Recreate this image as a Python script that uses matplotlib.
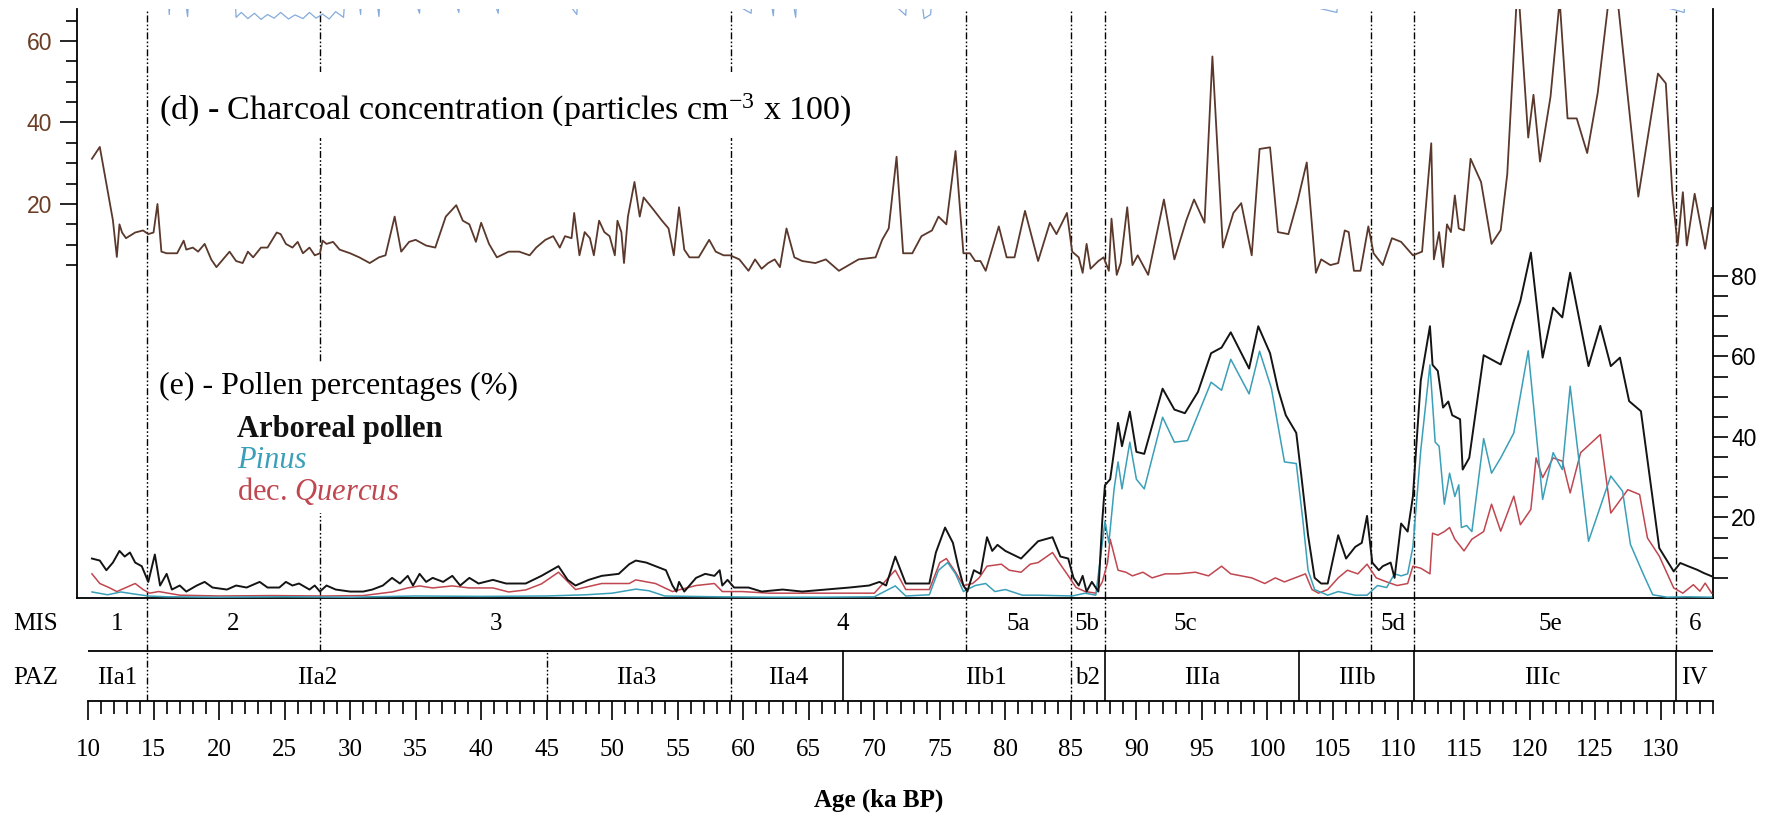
import numpy as np
import matplotlib.pyplot as plt
from matplotlib.patches import Rectangle
from matplotlib.ticker import FixedLocator, MultipleLocator

plt.rcParams['font.family'] = 'Liberation Serif'
plt.rcParams['mathtext.fontset'] = 'custom'
plt.rcParams['mathtext.rm'] = 'Liberation Serif'
plt.rcParams['mathtext.it'] = 'Liberation Serif:italic'

# ---- data (age in ka BP) ----
charcoal_age = [10.3, 10.9, 11.9, 12.2, 12.4, 12.6, 12.9, 13.6, 14.2, 14.6, 15.0, 15.3, 15.6, 16.0, 16.8,
                17.3, 17.5, 18.0, 18.4, 18.9, 19.4, 19.8, 20.3, 20.8, 21.3, 21.8, 22.2, 22.6, 23.2, 23.7,
                24.4, 24.7, 25.1, 25.6, 26.0, 26.4, 26.9, 27.3, 27.7, 27.9, 28.2, 28.7, 29.2, 30.0, 30.7,
                31.5, 32.2, 32.7, 33.4, 33.9, 34.5, 35.0, 35.8, 36.5, 37.3, 38.1, 38.6, 39.1, 39.6, 40.0,
                40.6, 41.2, 42.1, 42.9, 43.7, 44.2, 44.9, 45.5, 46.0, 46.4, 46.9, 47.1, 47.5, 47.9, 48.3,
                48.6, 49.0, 49.4, 49.8, 50.2, 50.4, 50.7, 50.9, 51.2, 51.7, 52.1, 52.4, 53.1, 53.8, 54.3,
                54.7, 55.1, 55.5, 55.9, 56.6, 57.4, 57.9, 58.5, 59.0, 59.7, 60.4, 60.9, 61.4, 61.9, 62.4,
                62.8, 63.3, 63.9, 64.5, 65.5, 66.3, 67.3, 68.8, 70.1, 70.6, 71.1, 71.7, 72.2, 72.9, 73.6,
                74.4, 74.9, 75.5, 76.2, 76.8, 77.3, 77.7, 78.1, 78.5, 79.5, 80.1, 80.7, 81.5, 82.5, 83.4,
                83.9, 84.7, 85.1, 85.6, 85.9, 86.2, 86.5, 87.1, 87.5, 87.9, 88.1, 88.5, 88.8, 89.3, 89.7,
                90.1, 90.9, 92.1, 92.9, 93.8, 94.4, 95.2, 95.8, 96.6, 97.4, 98.0, 98.8, 99.4, 100.2, 100.8,
                101.6, 102.3, 103.0, 103.7, 104.1, 104.8, 105.4, 105.9, 106.2, 106.6, 107.1, 107.7, 108.1,
                108.8, 109.5, 110.2, 111.1, 111.8, 112.5, 112.7, 113.1, 113.4, 113.7, 114.0, 114.3, 114.6,
                115.0, 115.5, 116.3, 117.1, 117.8, 118.3, 119.1, 119.9, 120.3, 120.8, 121.6, 122.3, 122.9,
                123.6, 124.4, 125.2, 126.4, 128.3, 129.8, 130.4, 130.9, 131.3, 131.7, 132.0, 132.6, 133.4,
                133.9]
charcoal = [31.1, 34.0, 16.0, 7.0, 15.0, 13.0, 11.6, 13.0, 13.5, 12.6, 13.0, 20.0, 8.3, 7.9, 7.9,
            11.0, 8.8, 9.3, 8.3, 10.2, 6.4, 4.5, 6.4, 8.3, 6.0, 5.5, 8.3, 6.9, 9.3, 9.3,
            13.0, 12.6, 10.2, 9.3, 10.7, 7.9, 9.3, 7.4, 7.9, 11.0, 10.2, 10.7, 8.8, 7.9, 6.9,
            5.5, 6.9, 7.4, 16.9, 8.3, 10.7, 11.2, 9.8, 9.3, 16.9, 19.7, 15.9, 15.0, 10.7, 15.4,
            10.2, 6.9, 8.3, 8.3, 7.4, 9.3, 11.2, 12.1, 9.3, 12.1, 11.6, 17.8, 7.4, 13.1, 11.6,
            7.4, 15.9, 13.1, 12.1, 7.4, 15.9, 13.1, 5.5, 16.9, 25.4, 16.9, 21.6, 18.8, 15.9, 14.0,
            7.4, 19.2, 8.8, 6.9, 6.9, 11.2, 8.3, 7.4, 7.4, 6.4, 3.6, 6.4, 4.1, 5.5, 6.4,
            4.5, 14.0, 6.9, 6.0, 5.5, 6.4, 3.6, 6.4, 6.9, 11.2, 14.0, 31.6, 7.9, 7.9, 12.1,
            13.5, 16.9, 15.0, 33.0, 7.9, 7.9, 6.0, 6.0, 3.6, 14.5, 6.9, 6.9, 18.3, 6.0, 15.4,
            12.6, 17.8, 8.3, 6.9, 3.1, 10.2, 4.1, 6.0, 6.9, 3.6, 16.4, 2.6, 5.5, 19.2, 5.0,
            7.4, 2.6, 21.1, 6.4, 15.9, 21.1, 15.4, 56.2, 9.3, 17.8, 20.2, 7.4, 33.5, 33.9, 13.1,
            12.6, 20.7, 30.2, 3.1, 6.4, 5.0, 5.5, 13.5, 13.1, 3.6, 3.6, 14.5, 7.9,
            5.0, 11.6, 10.7, 7.4, 8.3, 34.9, 6.4, 13.1, 4.5, 15.0, 13.1, 22.1, 14.0,
            13.5, 31.1, 25.4, 10.2, 13.6, 27.3, 75.0, 36.3, 46.8, 30.4, 46.3, 70.0, 41.0,
            41.0, 32.5, 47.2, 80.0, 21.8, 52.0, 49.6, 22.6, 9.8, 22.9, 9.8, 22.5, 9.0,
            19.0]

ap_age = [10.3, 10.9, 11.4, 11.9, 12.4, 12.8, 13.2, 13.6, 14.1, 14.6, 15.1, 15.5, 16.0, 16.4, 17.0,
          17.5, 18.3, 18.9, 19.5, 20.6, 21.3, 22.1, 23.1, 23.7, 24.6, 25.1, 25.6, 26.1, 26.9, 27.3,
          27.7, 28.2, 28.9, 30.0, 31.0, 31.7, 32.5, 33.2, 33.8, 34.4, 34.8, 35.3, 35.8, 36.3, 37.1,
          37.8, 38.4, 39.1, 39.8, 40.9, 41.9, 43.4, 44.6, 45.9, 46.6, 47.2, 48.2, 49.2, 50.5, 51.3,
          51.8, 52.6, 53.3, 54.1, 54.6, 54.9, 55.1, 55.5, 56.4, 57.1, 57.8, 58.2, 58.4, 58.8, 59.3,
          60.4, 61.4, 63.0, 64.5, 66.3, 68.1, 69.6, 70.4, 70.9, 71.6, 72.4, 74.2, 74.7, 75.4, 76.0,
          76.4, 76.8, 77.1, 77.6, 78.1, 78.6, 79.0, 79.4, 80.0, 81.2, 82.5, 83.6, 84.2, 84.8, 85.2,
          85.6, 85.9, 86.2, 86.6, 87.1, 87.4, 87.6, 88.0, 88.6, 88.9, 89.5, 90.0, 90.6, 92.0, 92.9,
          93.7, 94.7, 95.7, 96.5, 97.2, 98.6, 99.3, 100.2, 100.8, 101.4, 102.2, 102.6, 103.1, 103.6,
          104.1, 104.6, 105.4, 106.0, 106.7, 107.2, 107.6, 108.0, 108.5, 108.8, 109.4, 109.7, 110.2,
          110.7, 111.1, 111.7, 112.4, 112.6, 113.0, 113.4, 113.8, 114.1, 114.7, 114.9, 115.4, 116.5,
          117.8, 118.8, 119.3, 120.1, 121.0, 121.8, 122.5, 123.1, 124.5, 125.4, 126.2, 126.9, 127.6,
          128.5, 129.9, 131.0, 131.5, 132.1, 132.8, 133.3, 133.9]
ap = [9.8, 9.3, 6.9, 8.8, 11.7, 10.3, 11.3, 8.8, 7.9, 4.0, 10.8, 3.1, 6.0, 2.1, 3.1,
      1.6, 3.1, 4.0, 2.6, 2.1, 3.1, 2.6, 4.0, 2.6, 2.6, 4.0, 3.1, 3.6, 2.1, 3.1,
      1.6, 3.1, 2.1, 1.6, 1.6, 2.1, 3.1, 5.0, 3.6, 5.5, 3.1, 6.0, 4.0, 5.0, 4.0,
      5.5, 3.1, 5.0, 3.6, 4.5, 3.6, 3.6, 5.5, 7.9, 4.5, 3.1, 4.5, 5.5, 6.0, 8.4,
      9.3, 8.8, 7.9, 6.9, 3.1, 1.6, 4.0, 1.6, 5.0, 6.0, 5.5, 6.9, 3.1, 4.5, 2.6,
      2.6, 1.6, 2.1, 1.6, 2.1, 2.6, 3.1, 4.0, 3.1, 10.3, 3.6, 3.6, 11.3, 17.5, 13.7,
      7.9, 3.1, 1.6, 6.9, 6.0, 15.1, 11.7, 13.2, 11.7, 9.8, 14.1, 15.1, 10.3, 9.8, 5.0,
      3.1, 5.5, 1.6, 4.0, 1.6, 19.4, 28.0, 29.5, 43.5, 37.7, 46.3, 36.3, 35.8, 52.0, 46.8,
      45.9, 51.2, 60.8, 62.2, 66.0, 57.0, 67.5, 60.8, 52.0, 45.4, 41.0, 30.0, 15.6, 5.0,
      3.6, 3.6, 15.6, 9.8, 12.7, 13.7, 20.4, 8.8, 6.9, 7.9, 8.8, 5.0, 18.5,
      16.5, 25.2, 54.0, 67.5, 57.9, 56.4, 47.3, 48.8, 45.4, 44.4, 31.9, 34.8, 60.3,
      58.0, 68.8, 73.8, 85.8, 59.7, 72.1, 69.7, 80.8, 57.6, 67.6, 57.6, 59.7, 48.9,
      46.4, 12.4, 6.6, 8.7, 7.9, 7.0, 6.2, 5.4]

pinus_age = [10.3, 11.5, 12.5, 13.5, 14.6, 16.0, 20.0, 25.0, 30.0, 35.0, 40.0, 45.0, 48.0, 50.0, 51.8,
             52.8, 54.0, 58.0, 62.0, 66.0, 70.0, 71.6, 72.4, 74.2, 74.9, 75.6, 76.2, 76.8, 77.7, 78.5,
             79.2, 80.0, 81.3, 82.5, 85.1, 86.1, 86.9, 87.4, 87.6, 87.9, 88.3, 88.6, 88.9, 89.5, 90.0,
             90.6, 92.0, 92.9, 93.9, 95.7, 96.5, 97.2, 98.6, 99.4, 100.3, 101.3, 102.2, 102.7, 103.1,
             103.6, 104.6, 105.4, 106.7, 107.6, 108.4, 109.1, 109.7, 110.2, 110.7, 111.1, 111.7, 112.4,
             112.8, 113.1, 113.5, 113.9, 114.3, 114.6, 114.8, 115.2, 115.6, 116.5, 117.1, 117.8, 118.8,
             119.9, 121.0, 121.8, 122.5, 123.1, 124.5, 126.2, 127.1, 127.7, 128.7, 129.4, 130.5, 132.0,
             133.9]
pinus = [1.5, 0.8, 1.5, 1.0, 0.5, 0.3, 0.2, 0.3, 0.2, 0.5, 0.4, 0.5, 0.8, 1.2, 2.2,
         1.8, 0.5, 0.3, 0.2, 0.2, 0.3, 3.0, 0.5, 0.8, 6.9, 8.8, 6.0, 1.6, 3.1, 3.6,
         1.6, 2.1, 0.7, 0.7, 0.5, 1.2, 0.7, 13.7, 19.0, 13.7, 27.1, 33.8, 27.1, 38.7, 29.5,
         27.1, 44.9, 38.7, 39.1, 53.6, 51.6, 59.3, 50.7, 61.3, 52.1, 33.8, 33.4, 19.4, 6.9,
         2.1, 0.7, 1.6, 0.7, 0.7, 3.1, 2.6, 6.0, 5.5, 6.0, 12.7, 36.7, 57.9,
         38.7, 37.7, 23.3, 31.0, 25.2, 28.1, 17.5, 18.0, 16.5, 39.6, 31.0, 34.8, 41.0,
         61.4, 24.5, 36.1, 31.9, 52.6, 14.1, 30.3, 26.5, 13.3, 5.8, 0.8, 0.2, 0.3,
         0.2]

quercus_age = [10.3, 10.9, 11.6, 12.2, 12.9, 13.6, 14.2, 14.7, 15.4, 17.0, 20.0, 24.0, 28.0, 31.0, 33.2,
               34.4, 35.3, 36.3, 37.8, 39.1, 40.9, 42.1, 43.4, 44.6, 45.9, 47.2, 49.2, 51.3, 51.8, 53.3,
               54.6, 56.4, 57.8, 58.4, 59.9, 62.0, 66.0, 70.0, 71.6, 72.4, 74.2, 75.0, 75.5, 76.2, 76.8,
               77.5, 78.0, 78.6, 79.7, 80.3, 81.2, 81.9, 82.5, 83.6, 84.1, 84.7, 85.4, 86.1, 86.9, 87.4,
               87.8, 88.0, 88.6, 89.2, 89.7, 90.5, 91.2, 92.2, 93.2, 94.5, 95.5, 96.5, 97.2, 98.8, 99.8,
               100.6, 101.3, 102.1, 102.9, 103.4, 103.9, 104.6, 105.4, 106.1, 106.9, 107.6, 108.3, 109.1,
               109.9, 110.7, 111.1, 111.7, 112.4, 112.6, 113.0, 113.5, 113.9, 114.3, 115.0, 115.6, 116.5,
               117.1, 117.8, 118.8, 119.3, 120.1, 120.5, 121.0, 121.8, 122.5, 123.1, 123.9, 125.4, 126.2,
               127.5, 128.4, 129.0, 129.9, 131.0, 131.7, 132.5, 133.0, 133.4, 133.9]
quercus = [6.0, 3.6, 2.6, 1.6, 2.6, 3.6, 2.1, 1.2, 1.6, 0.7, 0.5, 0.6, 0.5, 0.6, 1.5,
           2.5, 3.0, 2.5, 3.0, 2.5, 2.5, 1.5, 2.0, 3.5, 6.4, 2.1, 3.6, 3.6, 4.5, 3.6,
           1.6, 3.1, 3.6, 1.6, 1.6, 1.2, 1.2, 1.2, 6.9, 2.1, 2.1, 8.8, 9.8, 6.4, 3.1,
           3.6, 5.0, 7.9, 8.4, 6.9, 6.4, 8.4, 8.8, 11.3, 8.8, 6.0, 2.6, 1.6, 1.2, 4.0,
           8.8, 14.6, 6.9, 6.4, 5.5, 6.4, 5.0, 6.0, 6.0, 6.4, 5.5, 7.9, 6.0, 5.0, 3.6,
           5.0, 4.0, 5.0, 6.0, 2.1, 1.2, 2.1, 5.0, 6.9, 6.0, 8.4, 5.0, 4.0,
           3.1, 3.6, 7.9, 7.4, 6.0, 16.1, 15.6, 16.5, 17.5, 14.6, 11.7, 14.6, 16.5,
           23.3, 16.6, 25.3, 18.2, 22.0, 34.8, 29.9, 34.8, 34.0, 26.1, 36.1, 40.6, 21.1,
           26.9, 25.7, 14.9, 10.4, 2.5, 1.2, 3.3, 1.7, 3.7, 1.2]

# lowest excursions of the record plotted above this panel (cut off at the top)
upper_age = [15.8, 16.2, 16.6, 17.6, 18.0, 20.9, 21.3, 21.7, 22.2, 22.7, 23.2, 23.7, 24.2, 24.7, 25.3,
             25.8, 26.4, 26.9, 27.4, 27.9, 28.4, 28.9, 29.5, 30.0, 30.8, 31.2, 32.2, 32.6, 35.3, 35.7,
             38.3, 38.7, 41.3, 41.7, 47.3, 47.7, 60.6, 61.0, 62.3, 62.7, 64.0, 64.4, 72.4, 72.8, 73.8,
             74.3, 74.8, 105.3, 105.7, 131.8, 132.2]
upper = [90, 66.5, 90, 66.0, 90, 90, 65.8, 67.0, 65.5, 66.8, 65.3, 66.5, 65.6, 67.0, 65.4,
         66.4, 65.5, 67.0, 65.6, 66.6, 65.4, 67.2, 65.8, 90, 66.5, 90, 66.0, 90, 66.8, 90,
         67.0, 90, 66.8, 90, 66.5, 90, 66.8, 90, 66.2, 90, 65.8, 90, 66.3, 90, 65.5,
         66.5, 90, 67.0, 90, 67.0, 90]

mis_bounds = [10, 14.5, 27.7, 59.1, 77.0, 85.0, 87.6, 107.9, 111.2, 131.2, 134]
mis_labels = ['1', '2', '3', '4', '5a', '5b', '5c', '5d', '5e', '6']
mis_label_age = [12.2, 21.1, 41.1, 67.6, 81.0, 86.2, 93.7, 109.6, 121.6, 132.6]

paz_bounds = [10, 14.5, 45.0, 59.1, 67.6, 85.0, 87.6, 102.4, 111.2, 131.2, 134]
paz_solid = [False, False, False, True, False, True, True, True, True]
paz_labels = ['IIa1', 'IIa2', 'IIa3', 'IIa4', 'IIb1', 'b2', 'IIIa', 'IIIb', 'IIIc', 'IV']
paz_label_age = [12.2, 27.5, 51.8, 63.4, 78.5, 86.3, 95.0, 106.8, 121.0, 132.6]

# ---- layout ----
W, H = 1779, 816
fig = plt.figure(figsize=(W / 100, H / 100), dpi=100)


def fx(px):
    return px / W


def fy(py):
    return 1 - py / H


X0, X1 = 77, 1713
Y_TOP, Y_BOT, Y_AXIS = 9, 598, 701
XLIM = (9.16, 134)
DASH = (0, (5, 1.6, 1.2, 1.6, 1.2, 1.6))

ax = fig.add_axes([fx(X0), fy(Y_BOT), (X1 - X0) / W, (Y_BOT - Y_TOP) / H])
ax2 = ax.twinx()
strip = fig.add_axes([fx(X0), fy(Y_AXIS), (X1 - X0) / W, (Y_AXIS - Y_BOT) / H])

for a in (ax, ax2, strip):
    a.set_xlim(*XLIM)

# charcoal axis (left)
ax.set_ylim(-76.7, 67.85)
ax.spines['top'].set_visible(False)
ax.spines['right'].set_visible(False)
ax.spines['left'].set_linewidth(1.3)
ax.spines['bottom'].set_linewidth(1.3)
ax.tick_params(axis='x', bottom=False, labelbottom=False)
ax.yaxis.set_major_locator(FixedLocator([20, 40, 60]))
ax.yaxis.set_minor_locator(FixedLocator([5, 10, 15, 25, 30, 35, 45, 50, 55, 65]))
ax.tick_params(axis='y', which='major', direction='out', length=12, width=1.2,
               labelsize=16.5, pad=6, labelcolor='#6b3d24')
ax.tick_params(axis='y', which='minor', direction='out', length=8, width=1.2)
for lab in ax.get_yticklabels():
    lab.set_family('Liberation Sans')

# pollen axis (right)
ax2.set_ylim(0, 146.3)
for s in ('top', 'left', 'bottom'):
    ax2.spines[s].set_visible(False)
ax2.spines['right'].set_linewidth(1.3)
ax2.yaxis.set_major_locator(FixedLocator([20, 40, 60, 80]))
ax2.yaxis.set_minor_locator(FixedLocator([5, 10, 15, 25, 30, 35, 45, 50, 55, 65, 70, 75]))
ax2.tick_params(axis='y', which='both', direction='out', length=11, width=1.2,
                labelsize=16.5, pad=2)
for lab in ax2.get_yticklabels():
    lab.set_family('Liberation Sans')

# MIS boundaries through the plot area
for b in mis_bounds[1:-1]:
    ax.axvline(b, color='black', lw=1.0, ls=DASH, zorder=1)

# curves
ax.plot(upper_age, upper, color='#5b8fd0', lw=0.9, alpha=0.75, zorder=3)
ax.plot(charcoal_age, charcoal, color='#5a382b', lw=1.3, zorder=3)
ax2.plot(quercus_age, quercus, color='#c0464f', lw=1.1, zorder=3)
ax2.plot(pinus_age, pinus, color='#3a9fb8', lw=1.1, zorder=4)
ax2.plot(ap_age, ap, color='#141414', lw=1.4, zorder=5)

# white boxes behind the panel titles (they interrupt the boundary lines)
for (x0, y0, x1, y1) in [(155, 72, 870, 138), (155, 363, 525, 513)]:
    ax.add_patch(Rectangle((fx(x0), fy(y1)), (x1 - x0) / W, (y1 - y0) / H,
                           transform=fig.transFigure, facecolor='white',
                           edgecolor='none', zorder=2))

fig.text(fx(159), fy(110), r'(d) - Charcoal concentration (particles cm$^{-3}$ x 100)',
         fontsize=24.5, va='center', ha='left')
fig.text(fx(159), fy(386), '(e) - Pollen percentages (%)', fontsize=23, va='center', ha='left')
fig.text(fx(237), fy(430), 'Arboreal pollen', fontsize=22, fontweight='bold',
         va='center', ha='left', color='#111111')
fig.text(fx(237), fy(461), 'Pinus', fontsize=22, style='italic', va='center',
         ha='left', color='#3a9fb8')
fig.text(fx(237), fy(491), r'dec. $Quercus$', fontsize=22, va='center', ha='left',
         color='#c0464f')

# MIS / PAZ strip and age axis
strip.set_ylim(0, 1)
for s in ('top', 'left', 'right'):
    strip.spines[s].set_visible(False)
strip.patch.set_alpha(0)
strip.set_yticks([])
strip.spines['bottom'].set_bounds(10, 134)
strip.spines['bottom'].set_linewidth(1.3)
strip.xaxis.set_major_locator(FixedLocator(np.arange(10, 131, 5)))
strip.xaxis.set_minor_locator(MultipleLocator(1))
strip.tick_params(axis='x', which='major', direction='out', length=14, width=1.2,
                  labelsize=18, pad=13)
strip.tick_params(axis='x', which='minor', direction='out', length=9, width=1.2)

SEP = 0.485
strip.plot([10, 134], [SEP, SEP], color='black', lw=1.3, solid_capstyle='butt')
for b in mis_bounds[1:-1]:
    strip.plot([b, b], [SEP, 1], color='black', lw=1.0, ls=DASH)
for b, solid in zip(paz_bounds[1:-1], paz_solid):
    strip.plot([b, b], [0, SEP], color='black', lw=1.2 if solid else 1.0,
               ls='-' if solid else DASH)

for lab, a in zip(mis_labels, mis_label_age):
    strip.text(a, 0.75, lab, fontsize=18, ha='center', va='center')
for lab, a in zip(paz_labels, paz_label_age):
    strip.text(a, 0.22, lab, fontsize=18, ha='center', va='center')
strip.text(4.3, 0.75, 'MIS', fontsize=18, ha='left', va='center', clip_on=False)
strip.text(4.3, 0.22, 'PAZ', fontsize=18, ha='left', va='center', clip_on=False)

fig.text(fx(879), fy(800), 'Age (ka BP)', fontsize=18, fontweight='bold',
         ha='center', va='center')

fig.savefig('out.png', dpi=100)
